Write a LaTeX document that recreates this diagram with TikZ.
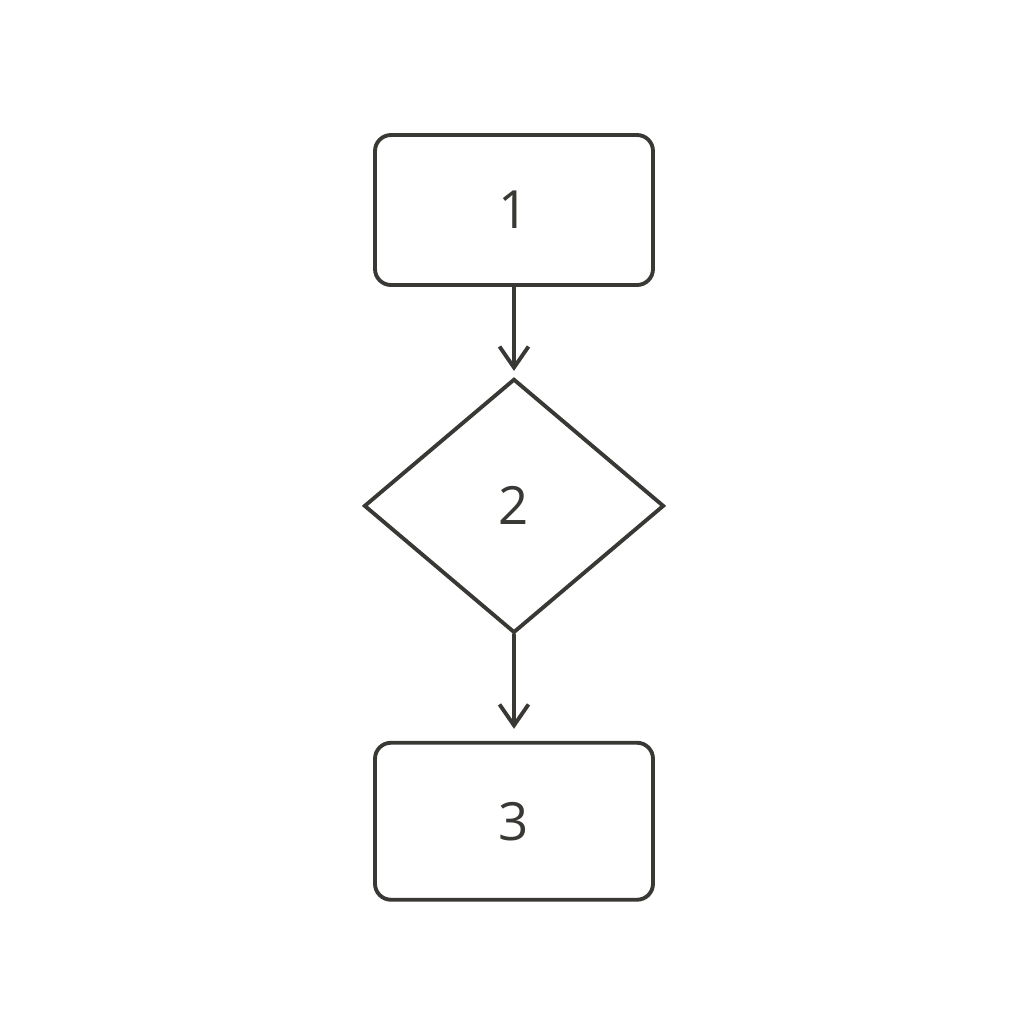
\documentclass[tikz,border=0pt]{standalone}
\usepackage{fontspec}
\setmainfont{Open Sans}
\usetikzlibrary{positioning,shapes.geometric,arrows.meta}
\definecolor{inkgray}{HTML}{3A3835}
\begin{document}
\begin{tikzpicture}[line width=2.2pt, draw=inkgray,
    procbox/.style={draw=inkgray, rectangle, rounded corners=0.32cm, minimum width=5.56cm, minimum height=3.0cm, inner sep=0pt, font=\fontsize{30}{34}\selectfont, text=inkgray},
    decbox/.style={draw=inkgray, diamond, aspect=1.18, minimum width=6cm, minimum height=5.08cm, inner sep=0pt, font=\fontsize{30}{34}\selectfont, text=inkgray},
    flow/.style={draw=inkgray, line cap=round, -{Straight Barb[length=0.42cm, width=0.58cm, line width=2.2pt]}}]
        \useasboundingbox[fill=white] (0,0) rectangle (20.48,-20.48);
        \node (first) [procbox] at (10.28,-4.2) {1};
        \node (decision) [decbox, below=1.80cm of first] {2};
        \node (last) [procbox, below=2.12cm of decision, minimum height=3.14cm] {3};

        \draw[flow, shorten >=0.12cm] (first) -- (decision);
        \draw[flow, shorten >=0.24cm] (decision) -- (last);
    \end{tikzpicture}
\end{document}
